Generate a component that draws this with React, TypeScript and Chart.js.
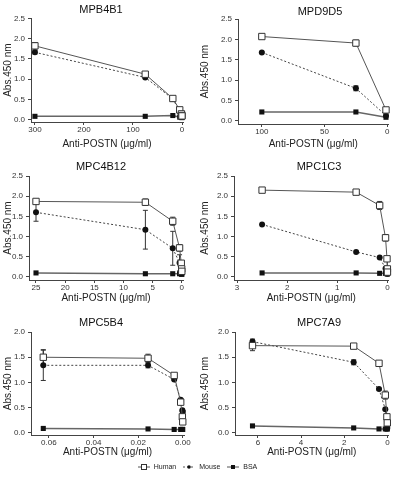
import React, { useEffect, useRef } from "react";
import { Chart, registerables } from "chart.js";
Chart.register(...registerables);

// ---------- DATA ----------
const titles = ["MPB4B1", "MPD9D5", "MPC4B12", "MPC1C3", "MPC5B4", "MPC7A9"];
const seriesNames = ["Human", "Mouse", "BSA"];
const xAxisTitle = "Anti-POSTN (μg/ml)";
const yAxisTitle = "Abs.450 nm";

const conc1 = [300, 75, 18.75, 4.69, 1.17, 0.29, 0.07];
const human1 = [1.82, 1.12, 0.52, 0.24, 0.14, 0.1, 0.09];
const humanErr1 = [0.08, 0.04, 0.02, 0.02, 0, 0, 0];
const mouse1 = [1.66, 1.04, 0.51, 0.2, 0.12, 0.08, 0.07];
const mouseErr1 = [0.04, 0.03, 0.02, 0, 0, 0, 0];
const bsa1 = [0.08, 0.08, 0.1, 0.06, 0.06, 0.05, 0.05];

const conc2 = [100, 25, 1];
const human2 = [2.07, 1.91, 0.27];
const humanErr2 = [0.02, 0.07, 0.03];
const mouse2 = [1.68, 0.8, 0.13];
const mouseErr2 = [0.02, 0.06, 0];
const bsa2 = [0.22, 0.22, 0.09];

const conc3 = [25, 6.25, 1.5625, 0.39, 0.098, 0.024, 0.006];
const human3 = [1.87, 1.85, 1.38, 0.72, 0.34, 0.2, 0.14];
const humanErr3 = [0.02, 0.08, 0.1, 0.08, 0.05, 0.03, 0];
const mouse3 = [1.6, 1.17, 0.71, 0.35, 0.2, 0.12, 0.1];
const mouseErr3 = [0.22, 0.48, 0.42, 0.2, 0.05, 0, 0];
const bsa3 = [0.1, 0.08, 0.08, 0.08, 0.08, 0.07, 0.07];

const conc4 = [2.5, 0.625, 0.156, 0.039, 0.0098, 0.0024, 0.0006];
const human4 = [2.15, 2.1, 1.77, 0.97, 0.45, 0.2, 0.12];
const humanErr4 = [0.02, 0.06, 0.1, 0.08, 0.03, 0, 0];
const mouse4 = [1.3, 0.62, 0.48, 0.21, 0.14, 0.1, 0.08];
const mouseErr4 = [0, 0, 0, 0, 0, 0, 0];
const bsa4 = [0.1, 0.1, 0.09, 0.09, 0.08, 0.08, 0.08];

const conc5 = [0.0625, 0.0156, 0.0039, 0.00098, 0.00024, 0.00006];
const human5 = [1.5, 1.48, 1.14, 0.61, 0.32, 0.22];
const humanErr5 = [0.15, 0.08, 0.03, 0.04, 0.02, 0];
const mouse5 = [1.34, 1.34, 1.06, 0.66, 0.45, 0.42];
const mouseErr5 = [0.3, 0.05, 0.02, 0.02, 0.02, 0.02];
const bsa5 = [0.09, 0.08, 0.07, 0.07, 0.07, 0.07];

const conc6 = [6.25, 1.5625, 0.39, 0.098, 0.024, 0.006];
const human6 = [1.73, 1.72, 1.38, 0.75, 0.32, 0.2];
const humanErr6 = [0.1, 0.02, 0.03, 0.08, 0.03, 0];
const mouse6 = [1.81, 1.4, 0.87, 0.47, 0.22, 0.1];
const mouseErr6 = [0.05, 0.05, 0.02, 0.02, 0, 0];
const bsa6 = [0.14, 0.1, 0.08, 0.08, 0.08, 0.08];

const yTicks25 = [0, 0.5, 1, 1.5, 2, 2.5];
const yTicks20 = [0, 0.5, 1, 1.5, 2];
const xTicks1 = [300, 200, 100, 0];
const xTicks2 = [100, 50, 0];
const xTicks3 = [25, 20, 15, 10, 5, 0];
const xTicks4 = [3, 2, 1, 0];
const xTicks5 = [0.06, 0.04, 0.02, 0];
const xTicks6 = [6, 4, 2, 0];

// ---------- LAYOUT (positions / ranges only) ----------
const FONT = "'Liberation Sans', Arial, Helvetica, sans-serif";

const panels = [
  { title: titles[0], conc: conc1, human: human1, humanErr: humanErr1, mouse: mouse1, mouseErr: mouseErr1, bsa: bsa1, xTicks: xTicks1, yTicks: yTicks25, xDec: 0,
    box: [0, 0, 197, 150], area: { l: 31, r: 183, t: 18.3, b: 122 }, xMin: -2, xMax: 308, yMin: -0.06, yMax: 2.5, tx: 101, tc: 10, xtb: 0 },
  { title: titles[1], conc: conc2, human: human2, humanErr: humanErr2, mouse: mouse2, mouseErr: mouseErr2, bsa: bsa2, xTicks: xTicks2, yTicks: yTicks25, xDec: 0,
    box: [197, 0, 197, 150], area: { l: 41, r: 195, t: 19, b: 124 }, xMin: -1, xMax: 119, yMin: -0.075, yMax: 2.5, tx: 123, tc: 11.5, xtb: 0 },
  { title: titles[2], conc: conc3, human: human3, humanErr: humanErr3, mouse: mouse3, mouseErr: mouseErr3, bsa: bsa3, xTicks: xTicks3, yTicks: yTicks25, xDec: 0,
    box: [0, 150, 197, 155], area: { l: 29, r: 183, t: 26, b: 130 }, xMin: -0.2, xMax: 26.2, yMin: -0.075, yMax: 2.5, tx: 101, tc: 16.5, xtb: 1 },
  { title: titles[3], conc: conc4, human: human4, humanErr: humanErr4, mouse: mouse4, mouseErr: mouseErr4, bsa: bsa4, xTicks: xTicks4, yTicks: yTicks25, xDec: 0,
    box: [197, 150, 197, 155], area: { l: 37, r: 194, t: 26, b: 130 }, xMin: -0.02, xMax: 3.06, yMin: -0.075, yMax: 2.5, tx: 122, tc: 17, xtb: 1 },
  { title: titles[4], conc: conc5, human: human5, humanErr: humanErr5, mouse: mouse5, mouseErr: mouseErr5, bsa: bsa5, xTicks: xTicks5, yTicks: yTicks20, xDec: 2,
    box: [0, 305, 197, 154], area: { l: 31, r: 184, t: 27, b: 130 }, xMin: -0.0005, xMax: 0.068, yMin: -0.04, yMax: 2.0, tx: 101, tc: 17.5, xtb: 1 },
  { title: titles[5], conc: conc6, human: human6, humanErr: humanErr6, mouse: mouse6, mouseErr: mouseErr6, bsa: bsa6, xTicks: xTicks6, yTicks: yTicks20, xDec: 0,
    box: [197, 305, 197, 154], area: { l: 38, r: 192, t: 27, b: 130 }, xMin: -0.05, xMax: 7.06, yMin: -0.04, yMax: 2.0, tx: 122, tc: 18, xtb: 1 },
];

const errorBars = {
  id: "errorBars",
  beforeDatasetsDraw(chart: any) {
    const ctx = chart.ctx;
    const ys = chart.scales.y;
    chart.data.datasets.forEach((ds: any, di: number) => {
      const errs = ds.errors;
      if (!errs) return;
      const meta = chart.getDatasetMeta(di);
      ctx.save();
      ctx.strokeStyle = "#333";
      ctx.lineWidth = 1;
      meta.data.forEach((pt: any, i: number) => {
        const e = errs[i];
        if (!e) return;
        const v = ds.data[i].y;
        const yt = ys.getPixelForValue(v + e);
        const yb = ys.getPixelForValue(v - e);
        ctx.beginPath();
        ctx.moveTo(pt.x, yt);
        ctx.lineTo(pt.x, yb);
        ctx.moveTo(pt.x - 2.5, yt);
        ctx.lineTo(pt.x + 2.5, yt);
        ctx.moveTo(pt.x - 2.5, yb);
        ctx.lineTo(pt.x + 2.5, yb);
        ctx.stroke();
      });
      ctx.restore();
    });
  },
};

const panelTitle = {
  id: "panelTitle",
  afterDraw(chart: any, _args: any, opts: any) {
    const ctx = chart.ctx;
    ctx.save();
    ctx.font = `11px ${FONT}`;
    ctx.fillStyle = "#111";
    ctx.textAlign = "center";
    ctx.textBaseline = "middle";
    ctx.fillText(opts.text, opts.x, opts.y);
    ctx.restore();
  },
};

function makeConfig(p: any): any {
  const [, , W, H] = p.box;
  const toPts = (ys: number[]) => p.conc.map((x: number, i: number) => ({ x, y: ys[i] }));
  const tickFont = { family: FONT, size: 8, lineHeight: 1.2 };
  const axisColor = "#444";
  return {
    type: "line",
    data: {
      datasets: [
        {
          label: seriesNames[0],
          data: toPts(p.human),
          errors: p.humanErr,
          borderColor: "#555",
          borderWidth: 1,
          pointStyle: "rect",
          pointRadius: 4.5,
          pointBackgroundColor: "#fff",
          pointBorderColor: "#333",
          pointBorderWidth: 1,
          clip: false,
        },
        {
          label: seriesNames[1],
          data: toPts(p.mouse),
          errors: p.mouseErr,
          borderColor: "#444",
          borderWidth: 1,
          borderDash: [2, 2],
          pointStyle: "circle",
          pointRadius: 3,
          pointBackgroundColor: "#111",
          pointBorderColor: "#111",
          pointBorderWidth: 0,
          clip: false,
        },
        {
          label: seriesNames[2],
          data: toPts(p.bsa),
          borderColor: "#666",
          borderWidth: 1.5,
          pointStyle: "rect",
          pointRadius: 3.6,
          pointBackgroundColor: "#111",
          pointBorderColor: "#111",
          pointBorderWidth: 0,
          clip: false,
        },
      ],
    },
    options: {
      animation: false,
      responsive: false,
      devicePixelRatio: 1,
      layout: { padding: { left: 0, top: p.area.t, right: W - p.area.r, bottom: 0 } },
      plugins: {
        legend: { display: false },
        tooltip: { enabled: false },
        title: { display: false },
        panelTitle: { text: p.title, x: p.tx, y: p.tc },
      },
      scales: {
        x: {
          type: "linear",
          reverse: true,
          min: p.xMin,
          max: p.xMax,
          afterBuildTicks: (s: any) => {
            s.ticks = p.xTicks.map((v: number) => ({ value: v }));
          },
          afterFit: (s: any) => {
            s.height = H - p.area.b;
          },
          ticks: {
            font: tickFont,
            color: "#333",
            padding: 0,
            maxRotation: 0,
            autoSkip: false,
            callback: (v: any) => Number(v).toFixed(p.xDec),
          },
          grid: { drawOnChartArea: false, drawTicks: true, tickLength: 3, color: axisColor, lineWidth: 1 },
          border: { display: true, color: axisColor, width: 1 },
          title: {
            display: true,
            text: xAxisTitle,
            color: "#222",
            font: { family: FONT, size: 10 },
            padding: { top: 0, bottom: p.xtb },
          },
        },
        y: {
          type: "linear",
          min: p.yMin,
          max: p.yMax,
          afterBuildTicks: (s: any) => {
            s.ticks = p.yTicks.map((v: number) => ({ value: v }));
          },
          afterFit: (s: any) => {
            s.width = p.area.l;
          },
          ticks: {
            font: tickFont,
            color: "#333",
            padding: 3,
            autoSkip: false,
            callback: (v: any) => Number(v).toFixed(1),
          },
          grid: { drawOnChartArea: false, drawTicks: true, tickLength: 3, color: axisColor, lineWidth: 1 },
          border: { display: true, color: axisColor, width: 1 },
          title: {
            display: true,
            text: yAxisTitle,
            color: "#222",
            font: { family: FONT, size: 10 },
            padding: { top: 2, bottom: 0 },
          },
        },
      },
    },
    plugins: [errorBars, panelTitle],
  };
}

function Panel({ p }: { p: any }) {
  const ref = useRef<HTMLCanvasElement | null>(null);
  useEffect(() => {
    const chart = new Chart(ref.current as HTMLCanvasElement, makeConfig(p));
    return () => chart.destroy();
  }, []);
  const [x, y, w, h] = p.box;
  return (
    <canvas
      ref={ref}
      width={w}
      height={h}
      style={{ position: "absolute", left: x, top: y, width: w, height: h }}
    />
  );
}

function LegendItem({ kind, label }: { kind: string; label: string }) {
  return (
    <span style={{ display: "inline-flex", alignItems: "center", marginRight: 7 }}>
      <svg width="12" height="8" style={{ marginRight: 4 }}>
        <line
          x1="0"
          y1="4"
          x2="12"
          y2="4"
          stroke="#555"
          strokeWidth="1"
          strokeDasharray={kind === "mouse" ? "2,2" : undefined}
        />
        {kind === "human" && <rect x="3.5" y="1.5" width="5" height="5" fill="#fff" stroke="#333" strokeWidth="1" />}
        {kind === "mouse" && <circle cx="6" cy="4" r="1.8" fill="#111" />}
        {kind === "bsa" && <rect x="4" y="2" width="4" height="4" fill="#111" />}
      </svg>
      {label}
    </span>
  );
}

export default function App() {
  return (
    <div
      style={{
        position: "absolute",
        left: 0,
        top: 0,
        width: 394,
        height: 480,
        background: "#fff",
        overflow: "hidden",
      }}
    >
      {panels.map((p, i) => (
        <Panel key={i} p={p} />
      ))}
      <div
        style={{
          position: "absolute",
          left: 4,
          top: 462,
          width: 394,
          textAlign: "center",
          fontFamily: FONT,
          fontSize: 7,
          color: "#222",
          lineHeight: "10px",
          WebkitFontSmoothing: "antialiased",
          transform: "translateZ(0)",
        }}
      >
        <LegendItem kind="human" label={seriesNames[0]} />
        <LegendItem kind="mouse" label={seriesNames[1]} />
        <LegendItem kind="bsa" label={seriesNames[2]} />
      </div>
    </div>
  );
}
